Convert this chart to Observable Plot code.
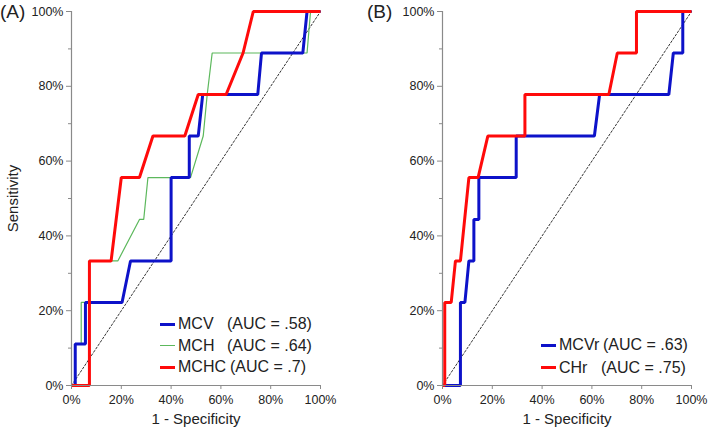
<!DOCTYPE html>
<html><head><meta charset="utf-8">
<script src="https://cdn.jsdelivr.net/npm/d3@7"></script>
<script src="https://cdn.jsdelivr.net/npm/@observablehq/plot@0.6"></script>
<style>
body{margin:0;background:#fff;font-family:Arial,"Liberation Sans",sans-serif;}
#wrap{position:relative;width:709px;height:432px;overflow:hidden;}
.panel{position:absolute;top:0;}
.plabel{position:absolute;font-size:19px;color:#222;line-height:1;}
.lg{position:absolute;font-size:16px;color:#222;line-height:1;white-space:nowrap;}
.sw{position:absolute;height:3px;}
</style>
</head><body>
<div id="wrap"></div>
<script>
// ---- Panel A data (1 - specificity %, sensitivity %) ----
const mcvX  = [0,1.5,1.5,5.6,5.6,20.3,23.7,40,40,47.3,47.3,50.9,52.7,74.8,76.3,92.9,94.6,100];
const mcvY  = [0,0,11.1,11.1,22.2,22.2,33.3,33.3,55.6,55.6,66.7,66.7,77.8,77.8,88.9,88.9,100,100];
const mchX  = [0,1.5,1.5,3.9,3.9,7.0,7.0,18.6,27.3,29.0,30.7,47.8,52.9,54.5,56.5,94.6,96,100];
const mchY  = [0,0,11.1,11.1,22.2,22.2,33.3,33.3,44.4,44.4,55.6,55.6,66.7,77.8,88.9,88.9,100,100];
const mchcX = [0,7.2,7.2,15.9,20.0,27.3,32.7,45.5,50.9,62.1,68.9,73,100];
const mchcY = [0,0,33.3,33.3,55.6,55.6,66.7,66.7,77.8,77.8,88.9,100,100];
// ---- Panel B data ----
const mcvrX = [0,7.2,7.2,9.0,10.6,12.6,12.6,14.6,14.6,29.6,29.6,61.0,63.1,90.9,92.7,96.5,96.5,100];
const mcvrY = [0,0,22.2,22.2,33.3,33.3,44.4,44.4,55.6,55.6,66.7,66.7,77.8,77.8,88.9,88.9,100,100];
const chrX  = [0,0.9,0.9,3.5,5.2,7.2,10.6,14.3,18.2,33.1,33.1,66.8,70.2,77.9,77.9,100];
const chrY  = [0,0,22.2,22.2,33.3,33.3,55.6,55.6,66.7,66.7,77.8,77.8,88.9,88.9,100,100];
const refDiag = [0,100];
const majorTicks = [0,20,40,60,80,100];
const minorTicks = [10,30,50,70,90];
const legendA = [
  {name:"MCV", auc:"(AUC = .58)"},
  {name:"MCH", auc:"(AUC = .64)"},
  {name:"MCHC", auc:"(AUC = .7)"}
];
const legendB = [
  {name:"MCVr", auc:"(AUC = .63)"},
  {name:"CHr", auc:"(AUC = .75)"}
];

const BLUE = "#0d12c9", GREEN = "#5cb85c", RED = "#ff0a0a", AXIS = "#8a8a8a";
const pts = (xs, ys) => xs.map((x, i) => ({x, y: ys[i]}));

function panel({series, width, ml, mr, ylabel}) {
  const marks = [
    Plot.line(refDiag, {x: d => d, y: d => d, stroke: "#333", strokeWidth: 1, strokeDasharray: "2,2"}),
    ...series.map(s => Plot.line(pts(s.x, s.y), {x: "x", y: "y", stroke: s.color, strokeWidth: s.w, strokeLinejoin: "miter", strokeLinecap: "butt"})),
    Plot.ruleX([0], {stroke: AXIS, strokeWidth: 1.2}),
    Plot.ruleY([0], {stroke: AXIS, strokeWidth: 1.2}),
    Plot.axisY(majorTicks, {anchor: "left", tickSize: 5, tickPadding: 3, stroke: AXIS, tickFormat: d => d + "%",
      label: ylabel, labelAnchor: "center", labelArrow: false, labelOffset: 64, fontSize: 12.5}),
    Plot.axisY(minorTicks, {anchor: "left", tickSize: 3, stroke: AXIS, tickFormat: () => "", label: null}),
    Plot.axisX(majorTicks, {anchor: "bottom", tickSize: 4, tickPadding: 6, stroke: AXIS, tickFormat: d => d + "%",
      label: "1 - Specificity", labelAnchor: "center", labelArrow: false, labelOffset: 38, fontSize: 12.5})
  ];
  return Plot.plot({
    width, height: 432, marginLeft: ml, marginRight: mr, marginTop: 11, marginBottom: 47,
    x: {domain: [0, 100]}, y: {domain: [0, 100]},
    style: {fontFamily: "Arial, 'Liberation Sans', sans-serif", fontSize: "12.5px", color: "#222", background: "transparent", overflow: "visible"},
    marks
  });
}

const wrap = document.getElementById("wrap");
const pA = panel({width: 360, ml: 71, mr: 40, ylabel: "Sensitivity", series: [
  {x: mchX, y: mchY, color: GREEN, w: 1.2},
  {x: mcvX, y: mcvY, color: BLUE, w: 3},
  {x: mchcX, y: mchcY, color: RED, w: 3}
]});
const pB = panel({width: 349, ml: 82, mr: 18, ylabel: null, series: [
  {x: mcvrX, y: mcvrY, color: BLUE, w: 3},
  {x: chrX, y: chrY, color: RED, w: 3}
]});
const dA = document.createElement("div"); dA.className = "panel"; dA.style.left = "0px"; dA.appendChild(pA); wrap.appendChild(dA);
const dB = document.createElement("div"); dB.className = "panel"; dB.style.left = "360px"; dB.appendChild(pB); wrap.appendChild(dB);

for (const svg of [pA, pB]) {
  svg.querySelectorAll("text").forEach(t => {
    if (t.textContent === "Sensitivity" || t.textContent === "1 - Specificity") t.setAttribute("font-size", 15);
  });
}

function addText(cls, txt, left, top) {
  const e = document.createElement("div"); e.className = cls; e.textContent = txt;
  e.style.left = left + "px"; e.style.top = top + "px"; wrap.appendChild(e); return e;
}
addText("plabel", "(A)", 0, 2);
addText("plabel", "(B)", 367, 2);

function legend(items, colors, ws, swX, nameX, aucX, rows) {
  items.forEach((it, i) => {
    const sw = document.createElement("div"); sw.className = "sw";
    sw.style.left = swX + "px"; sw.style.width = "15px";
    sw.style.top = (rows[i] - ws[i] / 2) + "px"; sw.style.height = ws[i] + "px";
    sw.style.background = colors[i]; wrap.appendChild(sw);
    addText("lg", it.name, nameX, rows[i] - 8);
    addText("lg", it.auc, aucX[i], rows[i] - 8);
  });
}
legend(legendA, [BLUE, GREEN, RED], [3, 1.2, 3], 160, 178, [227, 227, 230], [324, 345.5, 367]);
legend(legendB, [BLUE, RED], [3, 3], 541, 559, [603, 601], [345, 367.5]);
</script>
</body></html>
